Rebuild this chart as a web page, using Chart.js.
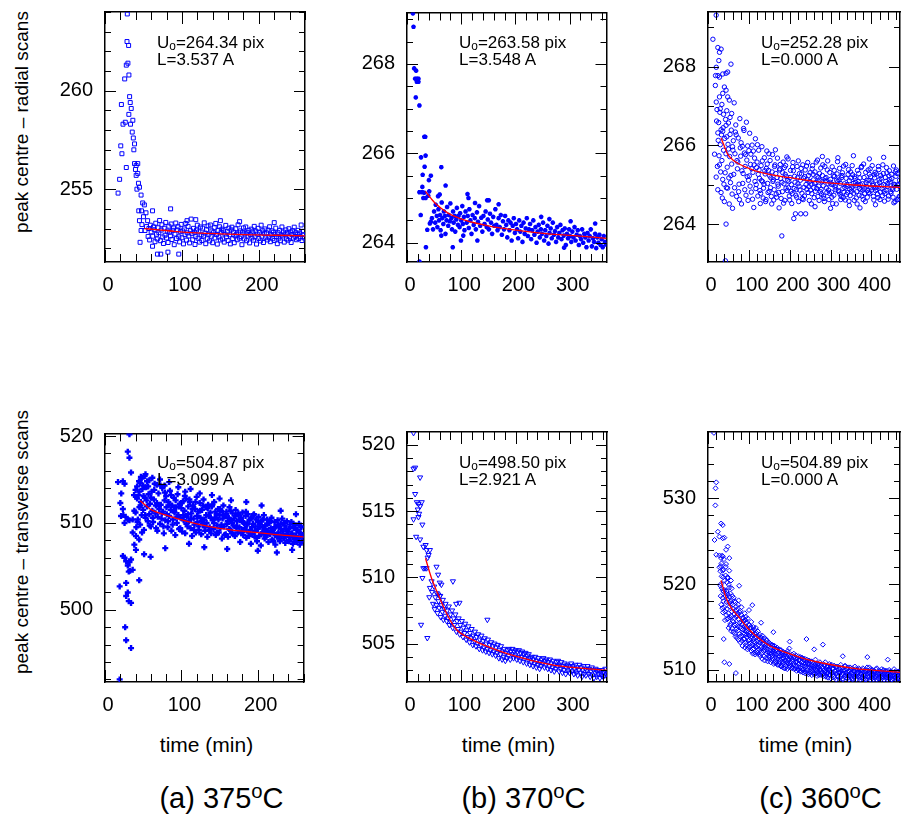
<!DOCTYPE html>
<html>
<head>
<meta charset="utf-8">
<script src="https://cdn.jsdelivr.net/npm/chart.js@4.4.0/dist/chart.umd.min.js"></script>
<style>
  body { margin: 0; background: #fff; width: 904px; height: 818px; position: relative; overflow: hidden;
         font-family: 'Liberation Sans', Arial, sans-serif; color: #000; }
  canvas { position: absolute; }
  .ytitle { position: absolute; white-space: nowrap; font-size: 19px; transform: translate(-50%, -50%) rotate(-90deg); }
  .note { position: absolute; font-size: 17px; line-height: 16.7px; white-space: nowrap; z-index: 2; }
  .note sub { font-size: 70%; vertical-align: -2px; line-height: 0; }
  .xtitle { position: absolute; font-size: 21px; white-space: nowrap; transform: translateX(-50%); }
  .caption { position: absolute; font-size: 29px; white-space: nowrap; transform: translateX(-50%); }
  .caption sup { font-size: 70%; vertical-align: 10px; line-height: 0; }
</style>
</head>
<body>
<div class="ytitle" style="left:22px;top:122px">peak centre – radial scans</div>
<div class="ytitle" style="left:22px;top:542px">peak centre – transverse scans</div>

<script>
// tick labels
var xTicks375 = [0, 100, 200];
var xTicks370 = [0, 100, 200, 300];
var xTicks360 = [0, 100, 200, 300, 400];
var yTicksRadial375 = [255, 260];
var yTicksRadial370 = [264, 266, 268];
var yTicksRadial360 = [264, 266, 268];
var yTicksTrans375 = [500, 510, 520];
var yTicksTrans370 = [505, 510, 515, 520];
var yTicksTrans360 = [510, 520, 530];

var temperatures = ['375', '370', '360'];
var panelLetters = ['a', 'b', 'c'];
var fitCentre = ['264.34', '263.58', '252.28', '504.87', '498.50', '504.89'];
var fitLength = ['3.537', '3.548', '0.000', '3.099', '2.921', '0.000'];

// (a) 375C radial scans: [time, peak centre]
var radial375 = [
  [17,254.8],[19,255.5],[20.5,257.2],[21.3,259.3],[22,256.8],[23.4,258.3],[25.6,260.6],[26.4,258.4],[27.7,256.1],[27.7,261.3],
  [28.6,262.5],[29,263.9],[29.8,261.4],[30.7,262.3],[31,258.8],[31.1,260.8],[32,259.7],[32.8,259.4],[33.2,258.3],[34.1,259.1],
  [35.4,257.9],[36.2,258.5],[36.8,257.6],[37.5,257.0],[38.4,257.3],[38.4,256.3],[39.6,256.0],[40.5,256.2],[40.5,255.7],[41.5,255.0],
  [42.6,256.3],[42.6,255.8],[43.5,255.3],[43.9,253.9],[44.8,255.1],[44.8,253.4],[45.6,252.3],[46.9,254.7],[46.9,252.9],[47.5,253.9],
  [48,253.2],[49,254.3],[50,253.6],[51.2,254.2],[52,252.9],[53.3,253.8],[54,253.1],[55.4,253.4],[56,252.6],[57,253.0],
  [58,252.42],[59,253.17],[60,252.83],[61.8,253.9],[61.8,252.1],[62,252.61],[63,253.08],[64,252.94],[65,252.33],[66,253.27],
  [67,252.71],[68.2,251.7],[68,252.47],[69,253.04],[70,252.79],[71,253.41],[72.5,251.7],[72,252.38],[73,252.92],[74,253.19],
  [75,252.57],[76,252.24],[77,253.02],[78,252.66],[79,253.31],[80,252.52],[81.8,251.8],[81,252.87],[82,252.29],[83,253.12],
  [84,252.81],[85.3,254.0],[85,252.63],[86,253.23],[87,252.44],[88,252.91],[89,253.03],[90,252.18],[91,252.72],[92,253.28],
  [93,252.49],[94,252.93],[95.9,251.7],[95,253.09],[96,252.58],[97,252.32],[98,252.84],[99,253.21],[100,252.53],[101,252.88],
  [102,252.22],[103,252.98],[104,252.69],[105,253.26],[106.6,253.4],[106,252.41],[107,252.78],[108,253.11],[109,252.62],[110,252.27],
  [111,252.89],[112,253.48],[113,252.74],[114,252.43],[115,253.01],[116,252.82],[117,252.19],[118,253.45],[118,252.59],[119,252.92],
  [120,253.17],[121,252.51],[122,252.83],[123,252.31],[124,253.08],[125,252.68],[126,252.39],[127,253.02],[128,252.62],[129,253.29],
  [130,252.77],[131,252.23],[132,252.94],[133,252.48],[134,253.13],[135,252.71],[136,252.37],[137,253.18],[138,252.61],[139,252.88],
  [140,252.28],[141,252.79],[142,253.04],[143,252.52],[144,253.26],[145,252.69],[146,252.21],[147,252.91],[148,252.57],[149,253.09],
  [150,253.4],[150,252.42],[151,252.81],[152,252.97],[153,252.47],[154,252.89],[155,252.31],[156,252.72],[157,253.16],[158,252.58],
  [159,252.84],[160,252.39],[161,253.02],[162,252.68],[163,252.22],[164,252.93],[165,253.07],[166,252.49],[167,252.82],[168,252.28],
  [169,252.63],[170,252.99],[171,252.71],[172,252.43],[173,253.19],[174,252.78],[175,253.35],[175,252.51],[176,252.88],[177,252.59],
  [178,252.18],[179,252.81],[180,253.03],[181,252.47],[182,252.73],[183,253.08],[184,252.38],[185,252.79],[186,252.62],[187,252.91],
  [188,252.27],[189,252.69],[190,252.97],[191,252.52],[192,252.83],[193,252.41],[194,253.11],[195,252.58],[196,252.87],[197,252.21],
  [198,252.72],[199,253.01],[200,252.49],[201,252.81],[202,252.37],[203,253.17],[204,252.61],[205,252.89],[206,252.29],[207,252.74],
  [208,252.98],[209,252.53],[210,252.78],[211,252.42],[212,252.92],[213,252.57],[214,253.09],[215,252.33],[216,252.68],[217,252.88],
  [218,252.48],[219,252.81],[220,253.3],[220,252.39],[221,252.71],[222,253.02],[223,252.59],[224,252.23],[225,252.79],[226,252.51],
  [227,252.91],[228,252.38],[229,252.67],[230,253.08],[231,252.62],[232,252.82],[233,252.31],[234,252.71],[235,252.93],[236,252.47],
  [237,252.78],[238,252.41],[239,252.99],[240,252.57],[241,252.83],[242,252.29],[243,252.69],[244,252.89],[245,252.52],[246,253.07],
  [247,252.61],[248,252.79],[249,252.43],[250,252.71],[251,252.91],[252,252.49],[253,252.77],[254,252.58],[255,253.18],[256,252.39],
  [257,252.69],[258,252.86],[259,252.52]
];
var radial375Fit = [[51,253.0],[70,252.93],[90,252.86],[120,252.78],[150,252.73],[180,252.69],[220,252.66],[260,252.63]];

// (b) 370C radial scans
var radial370 = [
  [10.9,269.13],[12,268.83],[13.2,267.9],[16.8,267.85],[15,267.67],[18.1,267.67],[21.1,267.67],[18.1,267.6],[21.1,267.6],[16.2,267.25],
  [22.9,267.07],[31.9,266.37],[33.7,266.37],[34.3,265.95],[25.9,265.91],[32.5,265.7],[28.9,265.52],[44,265.5],[40.4,265.4],[63.3,265.69],
  [28.3,265.25],[22.9,265.13],[28.3,265.13],[31.9,265.12],[30.1,265.0],[34.3,265.0],[39.2,265.05],[41,265.15],[25.3,264.62],[34.9,263.9],
  [22.9,263.58],[37.4,264.29],[42.2,264.43],[44,264.47],[71.2,265.28],[60.3,265.08],[57.3,265.04],[63.3,264.16],[84.4,263.9],[99.5,264.05],
  [103.8,264.16],[113.4,265.0],[111.6,265.09],[125.5,264.89],[129.8,264.05],[147.9,264.95],[150.9,264.95],[169,264.86],[247.5,264.58],[262.6,264.53],
  [301.8,264.48],[289.8,263.89],[347.1,264.43],
  [46,264.55],[48,264.3],[50,264.7],[52,264.45],[53,264.85],[55,264.6],[56,264.35],[58,264.75],[59,264.5],[61,264.62],
  [62,264.28],[64,264.9],[65,264.55],[67,264.42],[68,264.7],[70,264.6],[71,264.2],[73,264.5],[74,264.8],[76,264.38],
  [77,264.62],[79,264.48],[80,264.88],[82,264.55],[83,264.3],[85,264.7],[86,264.45],[88,264.6],[89,264.25],[91,264.52],
  [92,264.78],[94,264.4],[95,264.6],[97,264.35],[98,264.66],[100,264.5],[102,264.82],[103,264.42],[105,264.58],[106,264.28],
  [108,264.7],[110,264.45],[112,264.6],[114,264.33],[115,264.75],[117,264.5],[119,264.2],[121,264.62],[123,264.4],[125,264.55],
  [127,264.3],[129,264.68],[131,264.47],[133,264.82],[135,264.38],[137,264.56],[139,264.25],[141,264.6],[143,264.42],[145,264.7],
  [147,264.35],[149,264.52],[151,264.3],[153,264.65],[155,264.45],[157,264.2],[159,264.58],[161,264.38],[163,264.75],[165,264.4],
  [167,264.28],[169,264.55],[171,264.35],[173,264.62],[175,264.18],[177,264.48],[179,264.3],[181,264.6],[183,264.4],[185,264.12],
  [187,264.5],[189,264.28],[191,264.45],[193,264.05],[195,264.38],[197,264.55],[199,264.22],[201,264.42],[203,264.3],[205,264.1],
  [207,264.5],[209,264.25],[211,264.38],[213,264.02],[215,264.45],[217,264.2],[219,264.32],[221,264.55],[223,264.15],[225,264.3],
  [227,264.42],[229,264.08],[231,264.28],[233,264.5],[235,264.18],[237,264.35],[239,264.0],[241,264.25],[243,264.4],[245,264.12],
  [247,264.3],[249,264.2],[251,264.45],[253,264.05],[255,264.28],[257,264.15],[259,264.38],[261,263.98],[263,264.22],[265,264.32],
  [267,264.1],[269,264.45],[271,264.18],[273,264.26],[275,264.02],[277,264.35],[279,264.12],[281,264.22],[283,264.4],[285,264.08],
  [287,264.28],[289,264.16],[291,264.32],[293,263.95],[295,264.2],[297,264.1],[299,264.3],[301,264.15],[303,264.02],[305,264.25],
  [307,264.12],[309,264.35],[311,264.05],[313,264.18],[315,264.28],[317,263.95],[319,264.15],[321,264.08],[323,264.3],[325,264.0],
  [327,264.2],[329,264.12],[331,263.9],[333,264.22],[335,264.05],[337,264.15],[339,264.3],[341,263.92],[343,264.1],[345,264.02],
  [347,264.2],[349,263.88],[351,264.12],[353,264.0],[355,264.18],[357,263.95],[359,264.08],[361,263.9],[363,264.15],[365,264.02],
  [367,263.96]
];
var radial370Fit = [[34,265.15],[45,264.98],[54,264.86],[75,264.67],[108,264.5],[150,264.38],[208,264.27],[260,264.2],[308,264.16],[368,264.1]];

// (c) 360C radial scans
var radial360 = [
  [20,269.3],[12,268.69],[24.1,268.48],[28.1,268.36],[32.1,268.44],[26.5,268.15],[20.2,267.98],[18.5,267.77],[24.1,267.77],[28.1,267.73],
  [36.1,267.81],[44.2,267.83],[56.2,268.06],[48.2,267.86],[18,267.52],[20.2,267.1],[28.1,267.23],[36.1,267.32],[40.1,267.48],[44.2,267.4],
  [48.2,267.23],[52.2,267.15],[16,265.78],[24.1,266.32],[32.1,266.4],[36.1,266.36],[44.2,266.51],[44.2,264.01],[180.7,263.71],[42.6,263.08],
  [210,264.15],[214,264.27],[227,264.27],[239,264.27],
  [20,265.2],[21,266.62],[22,266.91],[23,265.47],[24,264.88],[25,266.13],[26,266.58],[27,265.74],[28,265.51],[29,266.84],
  [30,266.02],[30,266.93],[31,265.33],[32,264.81],[33,266.27],[34,265.62],[34,267.04],[35,264.67],[36,265.14],[37,266.45],
  [38,266.79],[38,265.88],[39,265.02],[40,264.58],[41,266.18],[42,265.31],[43,266.66],[44,265.79],[45,264.93],[46,266.22],
  [46,266.88],[47,265.45],[48,264.92],[49,266.03],[50,265.91],[50,266.57],[51,265.18],[52,264.52],[53,265.72],[54,266.71],
  [54,266.28],[55,265.06],[56,265.24],[57,266.39],[58,265.53],[58,266.81],[59,264.77],[60,264.41],[60,265.97],
  [61,265.88],[62,266.12],[63,265.27],[64,267.08],[65,264.93],[66,265.79],[67,266.34],[68,266.52],[69,266.27],[70,264.71],
  [71,265.62],[72,265.41],[73,265.58],[74,266.19],[75,264.83],[76,265.02],[77,264.63],[78,266.68],[79,265.94],[80,265.73],
  [81,266.07],[82,264.52],[83,265.36],[84,265.98],[85,265.04],[86,265.29],[87,266.43],[88,266.38],[89,265.81],[90,264.88],
  [91,265.47],[92,265.77],[93,264.74],[94,266.59],[95,265.63],[96,265.21],[97,265.99],[98,264.61],[99,265.12],[100,265.87],
  [101,265.23],[102,266.31],[103,264.97],[104,265.52],[105,265.78],[106,264.82],[107,265.41],[108,266.01],[109,264.64],[110,265.32],
  [111,265.86],[112,264.43],[113,265.51],[114,265.68],[115,265.09],[116,266.17],[117,264.91],[118,265.01],[119,265.44],[120,265.58],
  [121,266.02],[122,264.72],[123,265.27],[124,265.88],[125,265.38],[126,265.17],[127,264.86],[128,264.53],[129,264.79],[130,265.49],
  [131,265.11],[132,265.97],[133,265.61],[134,265.08],[135,264.67],[136,264.92],[137,265.02],[138,265.69],[139,265.36],[140,265.28],
  [141,264.58],[142,264.63],[143,265.42],[144,265.86],[145,265.53],[146,265.04],[147,264.81],[148,265.37],[149,265.79],[150,264.84],
  [151,265.23],[152,265.62],[153,264.93],[154,265.18],[155,264.71],[156,264.52],[157,265.33],[158,265.77],[159,265.09],[160,265.13],
  [161,264.62],[162,264.88],[163,265.47],[164,265.51],[165,265.89],[166,265.29],[167,264.77],[168,264.69],[169,265.19],[170,265.68],
  [171,265.02],[172,264.97],[173,264.81],[174,264.42],[175,265.38],[176,265.41],[177,265.52],[178,265.16],[179,264.66],[181,265.07],
  [182,264.83],[183,265.31],[184,265.58],[185,264.54],[186,265.03],[187,265.44],[188,264.61],[189,265.27],[190,265.49],[191,264.92],
  [192,265.21],[193,265.71],[194,264.86],[195,265.12],[196,265.66],[197,264.93],[198,265.08],[199,264.72],[200,264.62],[201,265.19],
  [202,265.37],[203,264.84],[204,265.01],[205,264.53],[206,264.78],[207,265.46],[208,265.57],[209,265.36],[211,264.91],[212,265.22],
  [213,265.07],[215,264.74],[216,264.88],[217,264.69],[218,265.47],[219,265.18],[220,265.03],[221,265.61],[222,264.58],[223,264.97],
  [224,265.29],[225,264.87],[226,265.12],[228,265.42],[229,265.28],[230,264.79],[231,264.66],[232,265.51],[233,264.63],[234,265.17],
  [235,264.94],[236,264.72],[237,265.21],[238,265.38],[240,265.01],[241,265.48],[242,264.89],[243,265.13],[244,265.57],[245,264.81],
  [246,265.24],[247,264.96],[248,264.61],[249,265.09],[250,265.31],
  [251,264.87],[252,265.02],[253,264.52],[254,264.78],[255,265.41],[256,265.49],[257,265.27],[258,265.13],[259,264.93],[260,264.68],
  [261,265.04],[262,265.33],[263,264.84],[264,265.06],[265,265.58],[266,264.91],[267,265.22],[268,265.63],[269,264.71],[270,265.18],
  [271,264.97],[272,264.61],[273,265.29],[274,265.12],[275,264.83],[276,265.43],[277,264.89],[278,264.77],[279,265.08],[280,265.24],
  [281,265.51],[282,264.98],[283,264.72],[284,264.66],[285,264.58],[286,265.47],[287,265.16],[288,265.11],[289,265.19],[290,264.92],
  [291,264.81],[292,265.38],[293,265.61],[294,265.03],[295,264.87],[296,264.63],[297,264.79],[298,265.32],[299,265.07],[300,265.14],
  [301,265.02],[302,264.82],[303,264.69],[304,265.46],[305,264.53],[306,265.01],[307,265.23],[308,264.74],[309,265.37],[310,265.22],
  [311,264.95],[312,264.99],[313,264.88],[314,264.52],[315,265.12],[316,265.28],[317,265.59],[318,265.09],[319,264.86],[320,264.83],
  [321,265.13],[322,265.42],[323,264.77],[324,265.04],[325,264.63],[326,264.71],[327,265.19],[328,265.24],[329,265.31],[330,264.91],
  [331,264.68],[332,265.48],[333,264.82],[334,265.03],[335,264.94],[336,264.62],[337,265.52],[338,265.17],[339,264.76],[340,265.01],
  [341,264.97],[342,264.81],[343,265.27],[344,265.39],[345,264.59],[346,265.11],[347,264.89],[348,264.73],[349,265.33],[350,265.18],
  [351,264.84],[352,264.92],[353,265.49],[354,265.26],[355,264.97],[356,265.04],[357,264.79],[358,264.61],[359,265.21],[360,265.16],
  [361,265.07],[362,264.98],[363,264.67],[364,264.83],[365,264.52],[366,265.37],[367,265.02],[368,265.09],[369,265.29],[370,264.74],
  [371,264.91],[372,265.18],[373,265.01],[374,264.88],[375,265.44],[376,265.47],[377,264.72],[378,265.03],[379,264.87],[380,264.63],
  [381,265.53],[382,265.19],[383,264.78],[384,264.91],[385,264.58],[386,265.32],[387,265.06],[388,264.97],[389,265.12],[390,264.69],
  [391,264.86],[392,265.38],[393,264.81],[394,265.12],[395,265.27],[396,264.79],[397,265.41],[398,265.21],[399,264.93],[400,264.87],
  [401,265.08],[402,265.49],[403,264.99],[404,265.03],[405,264.71],[406,264.62],[407,265.26],[408,265.18],[409,265.32],[410,264.86],
  [411,264.94],[412,265.28],[413,264.89],[414,265.02],[415,264.77],[416,264.68],[417,265.47],[418,265.39],[419,265.13],[420,265.06],
  [421,264.63],[422,264.82],[423,265.24],[424,265.17],[425,264.98],[426,264.91],[427,264.73],[428,265.51],[429,265.29],[430,265.01],
  [431,264.84],[432,264.59],[433,264.78],[434,265.19],[435,265.09],[436,264.87],[437,265.44],[438,265.31],[439,264.96],[440,265.04],
  [441,264.64],[442,264.72],[443,265.23],[444,265.36],[445,265.14],[446,265.08],[447,264.83],[448,264.79],[449,265.27],[450,265.16],
  [451,264.92],[452,264.88],[453,264.69],[454,265.48],[455,265.02],[456,264.97],[457,265.01],[458,264.58],[459,265.34],[460,265.22],
  [461,265.38],[462,264.89],[463,265.29],[464,264.63],[465,265.01],[466,264.98],[467,264.67],[468,264.71],[469,265.12],
  [262,264.45],[300,264.41],[346,264.48],[372,264.42],[410,264.5],[455,264.55],[280,265.72],[318,265.69],[356,265.74],[395,265.66],
  [430,265.7]
];
var radial360Fit = [[32,266.19],[40,265.98],[48,265.78],[60,265.64],[76,265.53],[96,265.44],[116,265.36],[150,265.27],[197,265.19],[277,265.07],[357,265.0],[470,264.94]];

// (a) 375C transverse scans
var trans375 = [
  [32,520.2],[29.8,518.2],[32,517.5],[34.1,515.8],[17,514.7],[23.4,514.8],[25.6,514.5],[21.3,513.4],[20.1,512.3],[23.4,511.6],
  [25.6,510.0],[29.8,510.4],[32,510.3],[19.2,502.7],[23.4,506.2],[25.6,506.0],[27.7,505.6],[29.8,505.1],[32,505.5],[34.1,505.8],
  [31.1,504.4],[32.8,504.5],[36.2,504.6],[27.7,503.1],[29.8,502.0],[27.7,501.6],[31.1,501.0],[34.1,500.8],[26.4,498.0],[27.7,496.5],
  [34.1,495.6],[19.2,492.0],[44.8,503.4],[38.4,507.5],[40.5,506.9],[44.8,508.1],[40.5,508.5],[36.2,508.9],[36.2,510.4],[38.4,511.4],
  [51.2,506.4],[59.7,506.1],[78.9,507.1],[21,510.8],[24,510.9],[27,510.7],[38,513.2],[40,513.8],[42,514.2],[45,513.6],
  [46,514.6],[48,515.1],[50,514.3],[52,515.4],[55,514.8],
  [40,511.2],[41,509.5],[42,512.8],[43,510.4],[44,513.2],[45,511.8],[46,509.8],[47,512.4],[48,510.9],[49,513.9],
  [50,511.5],[51,509.2],[52,512.9],[53,510.6],[54,514.1],[55,511.9],[56,510.2],[57,513.3],[58,511.0],[59,512.2],
  [60,509.6],[61,513.6],[62,511.4],[63,510.1],[64,512.7],[65,514.5],[66,511.1],[67,509.4],[68,512.3],[69,510.7],
  [70,513.4],[71,511.6],[72,509.9],[73,512.1],[74,510.5],[75,514.0],[76,511.3],[77,508.8],[78,512.6],[79,510.3],
  [80,513.1],[81,511.0],[82,509.5],[83,512.4],[84,510.8],[85,513.7],[86,511.5],[87,509.1],[88,512.0],[89,510.4],
  [90,512.9],[91,511.2],[92,508.6],[93,511.8],[94,510.0],[95,513.3],[96,510.9],[97,509.3],[98,512.2],[99,510.6],
  [100,511.7],[101,509.0],[102,512.5],[103,510.3],[104,511.4],[105,508.8],[106,512.8],[107,510.7],[108,509.6],[109,511.9],
  [110,510.2],[111,512.4],[112,509.4],[113,511.1],[114,508.5],[115,512.0],[116,510.5],[117,509.8],[118,511.6],[119,508.9],
  [120,513.0],[121,510.1],[122,511.3],[123,509.2],[124,512.3],[125,510.6],[126,508.7],[127,511.5],[128,509.9],[129,512.7],
  [130,510.4],[131,509.1],[132,511.8],[133,510.0],[134,508.4],[135,512.1],[136,510.8],[137,509.5],[138,511.2],[139,508.8],
  [140,511.9],[141,510.3],[142,509.3],[143,512.4],[144,510.6],[145,508.6],[146,511.0],[147,509.7],[148,511.6],[149,508.9],
  [150,510.9],[151,509.4],[152,511.4],[153,508.2],[154,510.5],[155,512.0],[156,509.6],[157,510.8],[158,508.7],[159,511.3],
  [160,509.9],[161,508.4],[162,510.6],[163,511.8],[164,509.2],[165,510.3],[166,508.8],[167,511.1],[168,509.7],[169,510.5],
  [170,508.5],[171,511.5],[172,509.4],[173,510.2],[174,508.9],[175,510.9],[176,509.5],[177,507.8],[178,510.6],[179,509.1],
  [180,511.2],[181,508.6],[182,510.0],[183,509.4],[184,510.8],[185,508.3],[186,509.8],[187,511.0],[188,508.9],[189,510.3],
  [190,509.2],[191,507.6],[192,510.6],[193,508.7],[194,509.9],[195,511.0],[196,508.4],[197,509.6],[198,510.4],[199,507.9],
  [200,509.3],[201,510.7],[202,508.5],[203,509.8],[204,507.4],[205,510.2],[206,508.9],[207,509.5],[208,510.9],[209,508.2],
  [210,509.7],[211,508.6],[212,510.4],[213,509.1],[214,507.8],[215,510.0],[216,508.7],[217,509.4],[218,510.6],[219,508.1],
  [220,509.2],[221,508.8],[222,510.1],[223,507.5],[224,509.6],[225,508.4],[226,510.3],[227,508.9],[228,509.5],[229,507.9],
  [230,509.9],[231,508.5],[232,510.5],[233,509.0],[234,508.2],[235,509.7],[236,507.7],[237,509.3],[238,510.2],[239,508.6],
  [240,509.0],[241,507.9],[242,509.8],[243,508.4],[244,510.1],[245,508.8],[246,507.6],[247,509.4],[248,508.1],[249,509.7],
  [250,508.5],[251,507.8],[252,509.2],[253,508.3],[254,509.9],[255,507.5],[256,508.8],[257,509.5],[258,507.9],[259,508.6],
  [47,515.3],[53,515.6],[58,514.9],[62,515.2],[68,514.4],[72,515.0],[78,514.3],[84,514.7],[96,514.1],[105,513.6],
  [112,513.9],[124,513.4],[140,513.2],[150,512.8],[165,512.6],[185,512.4],[205,512.0],[230,511.4],[250,511.0],[110,507.6],
  [130,507.2],[160,507.0],[200,506.8],[225,506.6],[245,506.9],
  [40.5,513.0],[42.5,510.1],[44.5,514.8],[46.5,512.0],[48.5,508.9],[50.5,513.1],[52.5,510.9],[54.5,512.6],[56.5,514.2],[58.5,509.7],
  [60.5,512.9],[62.5,510.6],[64.5,513.8],[66.5,512.0],[68.5,509.1],[70.5,511.9],[72.5,514.3],[74.5,511.1],[76.5,509.6],[78.5,513.5],
  [80.5,511.8],[82.5,510.2],[84.5,512.1],[86.5,513.2],[88.5,509.8],[90.5,511.4],[92.5,512.6],[94.5,510.7],[96.5,511.9],[98.5,509.4],
  [100.5,512.3],[102.5,510.9],[104.5,513.1],[106.5,509.9],[108.5,511.0],[110.5,512.7],[112.5,510.5],[114.5,511.6],[116.5,509.2],[118.5,512.4],
  [120.5,510.8],[122.5,509.6],[124.5,511.4],[126.5,510.2],[128.5,512.0],[130.5,509.5],[132.5,510.9],[134.5,511.7],[136.5,509.2],[138.5,510.6],
  [140.5,512.1],[142.5,510.0],[144.5,511.3],[146.5,508.9],[148.5,510.4],[150.5,511.6],[152.5,509.8],[154.5,510.9],[156.5,508.6],[158.5,511.0],
  [160.5,510.2],[162.5,509.3],[164.5,511.4],[166.5,510.0],[168.5,508.7],[170.5,510.8],[172.5,509.6],[174.5,511.1],[176.5,510.3],[178.5,508.8],
  [180.5,510.1],[182.5,509.2],[184.5,511.3],[186.5,509.9],[188.5,508.5],[190.5,510.5],[192.5,509.5],[194.5,510.9],[196.5,509.1],[198.5,508.3],
  [200.5,510.1],[202.5,509.6],[204.5,508.7],[206.5,510.4],[208.5,509.3],[210.5,508.4],[212.5,509.9],[214.5,508.9],[216.5,510.2],[218.5,509.0],
  [220.5,507.9],[222.5,509.5],[224.5,508.6],[226.5,509.8],[228.5,508.2],[230.5,509.3],[232.5,508.7],[234.5,510.0],[236.5,508.5],[238.5,509.1],
  [240.5,508.0],[242.5,509.5],[244.5,508.6],[246.5,509.9],[248.5,508.3],[250.5,509.2],[252.5,508.0],[254.5,508.9],[256.5,509.6],[258.5,508.4]
];
var trans375Fit = [[46,512.55],[61,511.5],[80,510.9],[98,510.4],[120,509.9],[148,509.4],[170,509.15],[192,508.95],[225,508.65],[260,508.4]];

// (b) 370C transverse scans
var trans370 = [
  [12,520.9],[12,518.2],[15,518.28],[24.1,517.54],[15,516.29],[18.1,515.67],[21.1,515.55],[27.1,515.67],[24.1,515.37],[19.9,515.12],
  [22.3,514.8],[12,514.38],[21.1,514.55],[28.3,513.98],[16.8,513.06],[24.1,512.86],[30.1,512.31],[34.3,512.44],[36.1,512.06],[42.2,512.06],
  [39.8,511.69],[38,511.49],[30.1,510.69],[33.1,510.69],[28.3,509.95],[36.1,510.69],[45.2,509.7],[42.2,509.2],[41,508.5],[54.3,510.8],
  [57.3,510.2],[60.3,509.6],[63.3,509.45],[57.3,508.7],[60.3,508.58],[25.9,506.42],[37.4,505.42],[84.5,509.7],[90.5,508.0],[96.5,508.08],
  [147.9,506.8],
  [46,508.9],[48,508.0],[50,509.3],[51,507.6],[52,508.5],[54,507.9],[55,508.8],[56,507.3],[58,508.2],[59,507.7],
  [61,508.6],[62,507.0],[63,507.9],[65,507.4],[66,508.3],[67,506.8],[69,507.6],[70,507.1],[71,508.0],[73,506.7],
  [74,507.5],[76,506.9],[77,507.8],[78,506.4],[80,507.2],[81,506.6],[83,507.5],[84,506.2],[86,506.9],[87,506.4],
  [89,507.2],[91,505.9],[92,506.7],[94,506.1],[95,506.9],[97,505.7],[98,506.4],[100,505.9],[101,506.7],[103,505.5],
  [104,506.2],[106,505.8],[107,506.5],[109,505.3],[110,506.0],[112,505.5],[113,506.3],[115,505.1],[116,505.8],[118,505.4],
  [119,506.1],[121,504.9],[122,505.6],[124,505.2],[125,505.9],[127,504.8],[128,505.5],[130,505.0],[131,505.7],[133,504.6],
  [134,505.3],[136,504.9],[137,505.6],[139,504.5],[140,505.2],[142,504.7],[143,505.4],[145,504.4],[146,505.0],[148,504.6],
  [149,505.3],[151,504.3],[152,504.9],[154,504.5],[155,505.1],[157,504.2],[158,504.8],[160,504.4],[161,505.0],[163,504.1],
  [164,504.7],[166,504.3],[167,504.9],[169,503.9],[170,504.5],[172,504.2],[173,504.8],[175,503.8],[176,504.4],[178,504.0],
  [179,504.6],[181,503.7],[182,504.3],[184,503.9],[185,504.5],[187,504.1],[188,504.6],[190,503.8],[191,504.4],[193,504.2],
  [194,504.6],[196,503.9],[197,504.4],[199,504.1],[200,504.5],[202,503.8],[203,504.4],[205,504.0],[206,504.5],[208,503.7],
  [209,504.3],[211,504.0],[212,504.4],[214,503.6],[215,504.2],[217,503.9],[218,504.3],[220,503.5],[221,504.1],[223,503.8],
  [224,504.2],[226,503.4],[227,503.9],[229,503.6],[230,504.0],[232,503.3],[233,503.8],[235,503.5],[236,504.0],[238,503.2],
  [239,503.7],[241,503.4],[242,503.9],[244,503.1],[245,503.6],[247,503.3],[248,503.8],[250,503.5],[251,503.9],[253,503.2],
  [254,503.7],[256,503.4],[257,503.8],[259,503.1],[260,503.6],[262,503.3],[263,503.8],[265,503.0],[266,503.5],[268,503.2],
  [269,503.7],[271,502.9],[272,503.4],[274,503.1],[275,503.6],[277,503.3],[278,503.7],[280,502.9],[281,503.4],[283,503.1],
  [284,503.6],[286,502.8],[287,503.3],[289,503.0],[290,503.5],[292,502.7],[293,503.2],[295,503.4],[296,502.9],[298,503.3],
  [299,502.8],[301,503.2],[302,503.5],[304,502.9],[305,503.3],[307,502.7],[308,503.1],[310,503.4],[311,502.8],[313,503.2],
  [314,502.6],[316,503.0],[317,503.4],[319,502.8],[320,503.2],[322,502.5],[323,503.0],[325,503.3],[326,502.7],[328,503.1],
  [329,502.6],[331,503.0],[332,503.3],[334,502.7],[335,503.1],[337,502.5],[338,502.9],[340,503.2],[341,502.6],[343,503.0],
  [344,502.4],[346,502.8],[347,503.1],[349,502.5],[350,502.9],[352,502.7],[353,503.0],[355,502.4],[356,502.8],[358,502.6],
  [359,503.0],[361,502.5],[362,502.8],[364,502.6],[365,503.1],[367,502.7]
];
var trans370Fit = [[34,511.44],[45,509.95],[60,508.45],[75,507.1],[90,506.1],[120,505.3],[151,504.73],[180,504.3],[211,503.93],[240,503.62],[272,503.36],[320,503.15],[368,502.99]];

// (c) 360C transverse scans
var trans360 = [
  [14.5,537.6],[20.2,531.84],[18.5,531.15],[18,529.16],[32.1,527.05],[36.1,526.86],[16,525.13],[24.1,526.09],[28.1,525.52],[36.1,525.33],
  [40.1,525.4],[20.2,523.41],[28.1,523.33],[32.1,523.02],[36.1,523.22],[44.2,523.99],[48.2,524.37],[52.2,523.02],[28.1,521.95],[36.1,521.56],
  [44.2,522.33],[52.2,521.56],[48.2,520.8],[56.2,520.41],[32.1,520.03],[36.1,519.26],[44.2,518.88],[52.2,518.5],[38.5,513.6],[40.1,510.9],
  [52.2,510.7],[68.3,509.64],[108.4,517.55],[100.4,516.97],[92.4,516.2],[241,513.6],[281.2,512.95],[76.3,519.8],
  [30,521.5],[31,518.6],[33,522.4],[34,519.5],[35,517.2],[37,520.8],[38,518.0],[39,522.9],[41,519.3],[42,516.8],
  [43,521.0],[45,517.9],[46,520.2],[47,515.9],[49,518.8],[50,516.6],[51,519.9],[53,517.4],[54,515.2],[55,518.9],
  [57,516.3],[58,519.5],[59,514.8],[61,517.6],[62,515.6],[63,518.4],[65,516.0],[66,514.2],[67,517.9],[69,515.3],
  [70,517.0],[71,513.7],[73,516.5],[74,514.6],[75,518.1],[77,515.5],[78,513.9],[79,516.9],[81,514.8],[82,517.3],
  [83,513.4],[85,516.1],[86,514.3],[87,515.7],[89,513.6],[90,516.6],[91,514.9],[93,512.9],[94,515.5],[95,513.8],
  [97,516.0],[98,514.4],[99,512.6],[101,515.2],[102,513.5],[103,514.8],[105,512.8],[106,515.6],[107,513.9],[109,514.6],
  [110,512.4],[111,515.0],[113,513.3],[114,514.2],[115,512.0],[117,514.9],[118,513.0],[119,513.8],[121,512.3],[122,514.5],
  [123,512.9],[125,513.6],[126,511.8],[127,514.1],[129,512.6],[130,513.4],[131,511.9],[133,514.0],[134,512.5],[135,513.1],
  [137,511.6],[138,513.7],[139,512.3],[141,512.9],[142,511.4],[143,513.5],[145,512.1],[146,512.8],[147,511.3],[149,513.2],
  [150,512.0],[151,511.5],[153,513.0],[154,511.8],[155,512.6],[157,511.1],[158,512.9],[159,511.7],[161,512.4],[162,510.9],
  [163,512.8],[165,511.5],[166,512.2],[167,510.8],[169,512.6],[170,511.3],[171,512.0],[173,510.6],[174,512.4],[175,511.2],
  [177,511.9],[178,510.5],[179,512.3],[181,511.0],[182,511.7],[183,510.3],[185,512.1],[186,510.9],[187,511.6],[189,510.2],
  [190,512.0],[191,510.8],[193,511.4],[194,510.1],[195,511.9],[197,510.7],[198,511.3],[199,512.5],[201,510.4],[202,511.6],
  [203,510.9],[205,511.8],[206,510.2],[207,511.2],[209,510.6],[210,511.9],[211,510.1],[213,511.3],[214,510.5],[215,511.7],
  [217,509.9],[218,511.0],[219,510.4],[221,511.6],[222,510.0],[223,511.1],[225,510.3],[226,511.5],[227,509.8],[229,510.9],
  [230,510.2],[231,511.4],[233,509.7],[234,510.8],[235,510.1],[237,511.3],[238,509.6],[239,510.7],[242,511.2],[243,510.0],
  [245,510.6],[246,509.5],[247,511.1],[249,510.3],[250,509.8],[251,511.0],[253,510.2],[254,509.4],[255,510.9],[257,510.1],
  [258,509.7],[259,510.8],[261,509.6],[262,510.5],[263,511.2],[265,509.9],[266,510.4],[267,509.3],[269,510.7],[270,509.8],
  [271,510.3],[273,509.5],[274,510.9],[275,510.0],[277,509.4],[278,510.6],[279,509.7],[282,510.2],[283,509.3],[285,510.5],
  [286,509.8],[287,510.9],[289,509.2],[290,510.1],[291,509.6],[293,510.4],[294,509.1],[295,510.0],[297,510.7],[298,509.5],
  [299,510.3],[301,509.0],[302,509.8],[303,510.6],[305,509.4],[306,510.2],[307,509.7],[309,510.5],[310,509.1],[311,509.9],
  [313,510.3],[314,508.9],[315,509.6],[317,510.4],[318,509.3],[319,509.8],[321,510.1],[322,509.0],[323,509.7],[325,510.6],
  [326,509.2],[327,509.9],[329,510.2],[330,508.9],[331,509.6],[333,510.0],[334,509.3],[335,510.4],[337,509.1],[338,509.7],
  [339,510.1],[341,509.0],[342,509.5],[343,510.3],[345,508.9],[346,509.8],[347,509.4],[349,510.0],[350,509.1],[351,509.7],
  [353,510.2],[354,508.9],[355,509.5],[357,510.0],[358,509.2],[359,509.8],[361,509.4],[362,510.1],[363,508.9],[365,509.6],
  [366,510.0],[367,509.2],[369,509.8],[370,509.3],[371,510.1],[373,508.9],[374,509.5],[375,509.9],[377,509.1],[378,509.7],
  [379,510.2],[381,509.0],[382,509.4],[383,509.8],[385,509.2],[386,510.0],[387,508.9],[389,509.6],[390,509.3],[391,509.9],
  [393,509.1],[394,509.7],[395,510.3],[397,508.9],[398,509.5],[399,509.9],[401,509.2],[402,509.6],[403,510.0],[405,508.9],
  [406,509.4],[407,509.8],[409,509.1],[410,509.6],[411,510.1],[413,508.9],[414,509.3],[415,509.7],[417,509.0],[418,509.5],
  [419,509.9],[421,509.2],[422,509.6],[423,508.9],[425,509.4],[426,509.8],[427,509.1],[429,509.5],[430,510.0],[431,508.9],
  [433,509.3],[434,509.7],[435,509.1],[437,509.5],[438,509.9],[439,508.9],[441,509.3],[442,509.6],[443,509.0],[445,509.4],
  [446,509.8],[447,509.1],[449,509.5],[450,508.9],[451,509.3],[453,509.7],[454,509.0],[455,509.4],[457,509.8],[458,509.1],
  [459,509.5],[461,508.9],[462,509.3],[463,509.7],[465,509.0],[466,509.4],[467,509.8],[469,509.1],
  [130,515.5],[160,514.4],[200,513.3],[260,512.4],[330,511.6],[390,511.5],[440,511.2],
  [30.5,519.8],[31.5,522.1],[32.5,517.6],[33.5,520.9],[34.5,523.3],[35.5,518.4],[36.5,516.7],[37.5,521.7],[38.5,519.1],[39.5,517.3],
  [40.5,520.4],[41.5,515.8],[42.5,518.6],[43.5,522.0],[44.5,516.4],[45.5,519.2],[46.5,517.1],[47.5,520.7],[48.5,516.0],[49.5,518.2],
  [50.5,514.9],[51.5,517.8],[52.5,519.6],[53.5,516.1],[54.5,518.0],[55.5,515.4],[56.5,517.7],[57.5,514.5],[58.5,516.8],[59.5,518.6],
  [60.5,515.7],[61.5,517.1],[62.5,514.4],[63.5,516.5],[64.5,518.0],[65.5,515.2],[66.5,516.9],[67.5,513.9],[68.5,516.2],[69.5,517.4],
  [70.5,514.8],[71.5,516.3],[72.5,515.1],[73.5,517.6],[74.5,513.5],[75.5,515.9],[76.5,514.2],[77.5,516.7],[78.5,515.0],[79.5,513.2],
  [80.5,515.6],[81.5,516.4],[82.5,514.0],[83.5,515.3],[84.5,512.8],[85.5,514.7],[86.5,516.0],[87.5,513.6],[88.5,515.1],[89.5,514.2],
  [90.5,512.6],[91.5,515.8],[92.5,514.5],[93.5,513.2],[94.5,515.0],[95.5,514.1],[96.5,512.4],[97.5,514.6],[98.5,513.4],[99.5,515.3],
  [100.5,514.0],[101.5,512.7],[102.5,514.3],[103.5,513.1],[104.5,515.0],[105.5,513.7],[106.5,512.2],[107.5,514.5],[108.5,513.0],[109.5,511.9],
  [110.5,514.1],[111.5,513.6],[112.5,512.5],[113.5,514.7],[114.5,513.2],[115.5,511.8],[116.5,513.9],[117.5,512.7],[118.5,514.3],[119.5,512.1],
  [120.5,513.3],[122,512.0],[123.5,513.9],[125,512.4],[126.5,513.2],[128,511.6],[129.5,513.8],[131,512.7],[132.5,511.3],[134,513.4],
  [135.5,512.2],[137,513.0],[138.5,511.1],[140,512.6],[141.5,513.6],[143,511.9],[144.5,512.4],[146,511.0],[147.5,512.9],[149,511.6],
  [150.5,513.1],[152,512.3],[153.5,510.9],[155,512.0],[156.5,512.8],[158,511.4],[159.5,512.2],[161,510.7],[162.5,511.9],[164,512.5],
  [165.5,511.0],[167,511.8],[168.5,512.4],[170,510.6],[171.5,511.5],[173,512.1],[174.5,510.9],[176,511.6],[177.5,512.3],[179,510.4],
  [180.5,511.3],[182,512.0],[183.5,510.8],[185,511.4],[186.5,510.2],[188,511.8],[189.5,511.1],[191,510.5],[192.5,511.6],[194,510.9],
  [195.5,512.2],[197,511.2],[198.5,510.3],[200,511.5],
  [201.5,510.7],[203.5,511.4],[205.5,510.3],[207.5,511.0],[209.5,510.8],[211.5,511.5],[213.5,510.2],[215.5,510.9],[217.5,511.3],[219.5,510.1],
  [221.5,510.7],[223.5,511.2],[225.5,509.9],[227.5,510.6],[229.5,511.4],[231.5,510.0],[233.5,510.5],[235.5,511.1],[237.5,509.8],[239.5,510.4],
  [241.5,510.9],[243.5,509.7],[245.5,510.3],[247.5,510.8],[249.5,509.6],[251.5,510.5],[253.5,511.0],[255.5,509.9],[257.5,510.4],[259.5,509.5],
  [261.5,510.2],[263.5,510.7],[265.5,509.6],[267.5,510.1],[269.5,510.6],[271.5,509.4],[273.5,510.0],[275.5,510.5],[277.5,509.8],[279.5,510.3],
  [281.5,509.5],[283.5,510.0],[285.5,510.6],[287.5,509.3],[289.5,509.9],[291.5,510.4],[293.5,509.7],[295.5,510.1],[297.5,509.4],[299.5,510.5],
  [302.5,509.6],[305.5,510.2],[308.5,509.3],[311.5,509.8],[314.5,510.4],[317.5,509.2],[320.5,509.7],[323.5,510.3],[326.5,509.5],[329.5,509.0],
  [332.5,509.9],[335.5,510.5],[338.5,509.4],[341.5,509.8],[344.5,509.2],[347.5,510.3],[350.5,509.6],[353.5,509.0],[356.5,509.9],[359.5,510.4],
  [362.5,509.3],[365.5,509.7],[368.5,510.2],[371.5,509.1],[374.5,509.6],[377.5,510.0],[380.5,509.4],[383.5,508.9],[386.5,509.8],[389.5,510.3],
  [392.5,509.2],[395.5,509.6],[398.5,510.1],[401.5,509.0],[404.5,509.5],[407.5,509.9],[410.5,509.3],[413.5,510.2],[416.5,509.6],[419.5,509.0],
  [422.5,509.8],[425.5,510.1],[428.5,509.2],[431.5,509.6],[434.5,509.9],[437.5,509.1],[440.5,509.5],[443.5,510.0],[446.5,509.3],[449.5,508.9],
  [452.5,509.7],[455.5,510.1],[458.5,509.2],[461.5,509.5],[464.5,509.8],[467.5,509.0]
];
var trans360Fit = [[32,520.42],[44,518.43],[56,517.28],[76,516.13],[96,514.95],[116,514.02],[150,512.85],[197,511.92],[237,511.3],[277,510.84],[357,510.19],[470,509.73]];

Chart.defaults.font.family = "'Liberation Sans', Arial, sans-serif";
Chart.defaults.color = '#000';

var BLUE = '#0000ff';
var colLeft = [105, 407, 708];
var colRight = [308, 610, 903];
var rowTop = [9, 429];
var rowBottom = [262, 682];
var xMaxes = [260, 368, 470];
var xTickSets = [xTicks375, xTicks370, xTicks360];

var panels = [
  { col: 0, row: 0, pts: radial375, fit: radial375Fit, yMin: 251.3, yMax: 264, major: yTicksRadial375, minor: 1,
    style: 'rect', r: 2.8, bw: 1, fill: false },
  { col: 1, row: 0, pts: radial370, fit: radial370Fit, yMin: 263.57, yMax: 269.15, major: yTicksRadial370, minor: 0.5,
    style: 'star', r: 2.3, bw: 1.5, fill: true },
  { col: 2, row: 0, pts: radial360, fit: radial360Fit, yMin: 263.05, yMax: 269.38, major: yTicksRadial360, minor: 1,
    style: 'circle', r: 2.2, bw: 1, fill: false },
  { col: 0, row: 1, pts: trans375, fit: trans375Fit, yMin: 491.7, yMax: 520.3, major: yTicksTrans375, minor: 2,
    style: 'cross', r: 3, bw: 2.4, fill: true },
  { col: 1, row: 1, pts: trans370, fit: trans370Fit, yMin: 502.1, yMax: 520.97, major: yTicksTrans370, minor: 1,
    style: 'triangle', r: 3, bw: 1, fill: false, rot: 180 },
  { col: 2, row: 1, pts: trans360, fit: trans360Fit, yMin: 508.6, yMax: 537.7, major: yTicksTrans360, minor: 2,
    style: 'rectRot', r: 2.5, bw: 1, fill: false }
];

// axes have fixed sizes so every plot area lands on the same spot as the original
function noPad(s) { s.paddingTop = 0; s.paddingBottom = 0; s.paddingLeft = 0; s.paddingRight = 0; }
function fixWidth(w) { return function(s) { s.width = w; noPad(s); }; }
function fixHeight(h) { return function(s) { s.height = h; noPad(s); }; }
function inRange(s) { s.ticks = s.ticks.filter(function(t) { return t.value >= s.min && t.value <= s.max; }); }
var frame = { display: true, color: '#000', width: 1.5 };

// tick marks pointing into the plot, from each scale's own ticks
var tickLen = { x: 8, xTop: 8, y: 11, yMinor: 6, y2: 11, y2Minor: 6 };
var innerTicks = {
  id: 'innerTicks',
  afterDraw: function(chart) {
    var ctx = chart.ctx, a = chart.chartArea;
    ctx.save();
    ctx.strokeStyle = '#000';
    ctx.lineWidth = 1;
    Object.keys(tickLen).forEach(function(id) {
      var s = chart.scales[id];
      if (!s) return;
      s.ticks.forEach(function(t) {
        var len = tickLen[id];
        if (s.isHorizontal() && t.value % 100 === 0) len = 12;
        var px = Math.round(s.getPixelForValue(t.value)) + 0.5;
        ctx.beginPath();
        if (s.position === 'bottom') { ctx.moveTo(px, a.bottom); ctx.lineTo(px, a.bottom - len); }
        else if (s.position === 'top') { ctx.moveTo(px, a.top); ctx.lineTo(px, a.top + len); }
        else if (s.position === 'left') { ctx.moveTo(a.left, px); ctx.lineTo(a.left + len, px); }
        else { ctx.moveTo(a.right, px); ctx.lineTo(a.right - len, px); }
        ctx.stroke();
      });
    });
    ctx.restore();
  }
};

function drawPanel(p, i) {
  var L = colLeft[p.col], R = colRight[p.col], T = rowTop[p.row], B = rowBottom[p.row];
  var xMax = xMaxes[p.col], xLabels = xTickSets[p.col];
  var cv = document.createElement('canvas');
  var w = (R - L) + 62, h = (B - T) + 46;
  cv.width = w; cv.height = h;
  cv.style.left = (L - 60) + 'px'; cv.style.top = (T - 2) + 'px';
  cv.style.width = w + 'px'; cv.style.height = h + 'px';
  document.body.appendChild(cv);

  var majorTicks = function(s) { s.ticks = p.major.map(function(v) { return { value: v }; }); };
  var hidden = { display: false };

  new Chart(cv, {
    type: 'scatter',
    data: {
      datasets: [{
        data: p.fit.map(function(d) { return { x: d[0], y: d[1] }; }),
        showLine: true, borderColor: '#ff0000', borderWidth: 1.3, pointRadius: 0,
        cubicInterpolationMode: 'monotone'
      }, {
        data: p.pts.map(function(d) { return { x: d[0], y: d[1] }; }),
        pointStyle: p.style, pointRadius: p.r, pointRotation: p.rot || 0,
        pointBorderWidth: p.bw, pointBorderColor: BLUE,
        pointBackgroundColor: p.fill ? BLUE : 'rgba(0,0,0,0)'
      }]
    },
    plugins: [innerTicks],
    options: {
      responsive: false, animation: false, events: [],
      layout: { padding: 0 },
      plugins: { legend: { display: false }, tooltip: { enabled: false } },
      scales: {
        x: { type: 'linear', display: true, position: 'bottom', min: 0, max: xMax, afterFit: fixHeight(44), afterBuildTicks: inRange,
             ticks: { stepSize: 20, autoSkip: false, maxRotation: 0, minRotation: 0, includeBounds: false,
                      padding: 11, labelOffset: 3, font: { size: 20 },
                      callback: function(v) { return xLabels.indexOf(v) >= 0 ? String(v) : ''; } },
             grid: { display: false, drawTicks: false }, border: frame },
        xTop: { type: 'linear', display: true, position: 'top', min: 0, max: xMax, afterFit: fixHeight(2), afterBuildTicks: inRange,
                ticks: { display: false, stepSize: 20, includeBounds: false },
                grid: { display: false, drawTicks: false }, border: frame },
        y: { type: 'linear', display: true, position: 'left', weight: 1, min: p.yMin, max: p.yMax, afterFit: fixWidth(60),
             afterBuildTicks: majorTicks,
             ticks: { padding: 12, font: { size: 20 }, callback: function(v) { return String(v); } },
             grid: { display: false, drawTicks: false }, border: frame },
        yMinor: { type: 'linear', display: true, position: 'left', weight: 0, min: p.yMin, max: p.yMax, afterFit: fixWidth(0),
                  afterBuildTicks: inRange,
                  ticks: { display: false, stepSize: p.minor, includeBounds: false },
                  grid: { display: false, drawTicks: false }, border: hidden },
        y2: { type: 'linear', display: true, position: 'right', weight: 1, min: p.yMin, max: p.yMax, afterFit: fixWidth(2),
              afterBuildTicks: majorTicks, ticks: { display: false },
              grid: { display: false, drawTicks: false }, border: frame },
        y2Minor: { type: 'linear', display: true, position: 'right', weight: 0, min: p.yMin, max: p.yMax, afterFit: fixWidth(0),
                   afterBuildTicks: inRange,
                   ticks: { display: false, stepSize: p.minor, includeBounds: false },
                   grid: { display: false, drawTicks: false }, border: hidden }
      }
    }
  });

  // fit result note
  var note = document.createElement('div');
  note.className = 'note';
  note.style.left = (L + [52, 52, 53][p.col]) + 'px';
  note.style.top = (T + 26) + 'px';
  note.innerHTML = 'U<sub>o</sub>=' + fitCentre[i] + ' pix<br>L=' + fitLength[i] + ' A';
  document.body.appendChild(note);
}

panels.forEach(drawPanel);

// bottom titles and captions
[0, 1, 2].forEach(function(c) {
  var mid = (colLeft[c] + colRight[c]) / 2;
  var t = document.createElement('div');
  t.className = 'xtitle';
  t.style.left = mid + 'px';
  t.style.top = '733px';
  t.textContent = 'time (min)';
  document.body.appendChild(t);

  var cap = document.createElement('div');
  cap.className = 'caption';
  cap.style.left = (mid + 15) + 'px';
  cap.style.top = '782px';
  cap.innerHTML = '(' + panelLetters[c] + ') ' + temperatures[c] + '<sup>o</sup>C';
  document.body.appendChild(cap);
});
</script>
</body>
</html>
